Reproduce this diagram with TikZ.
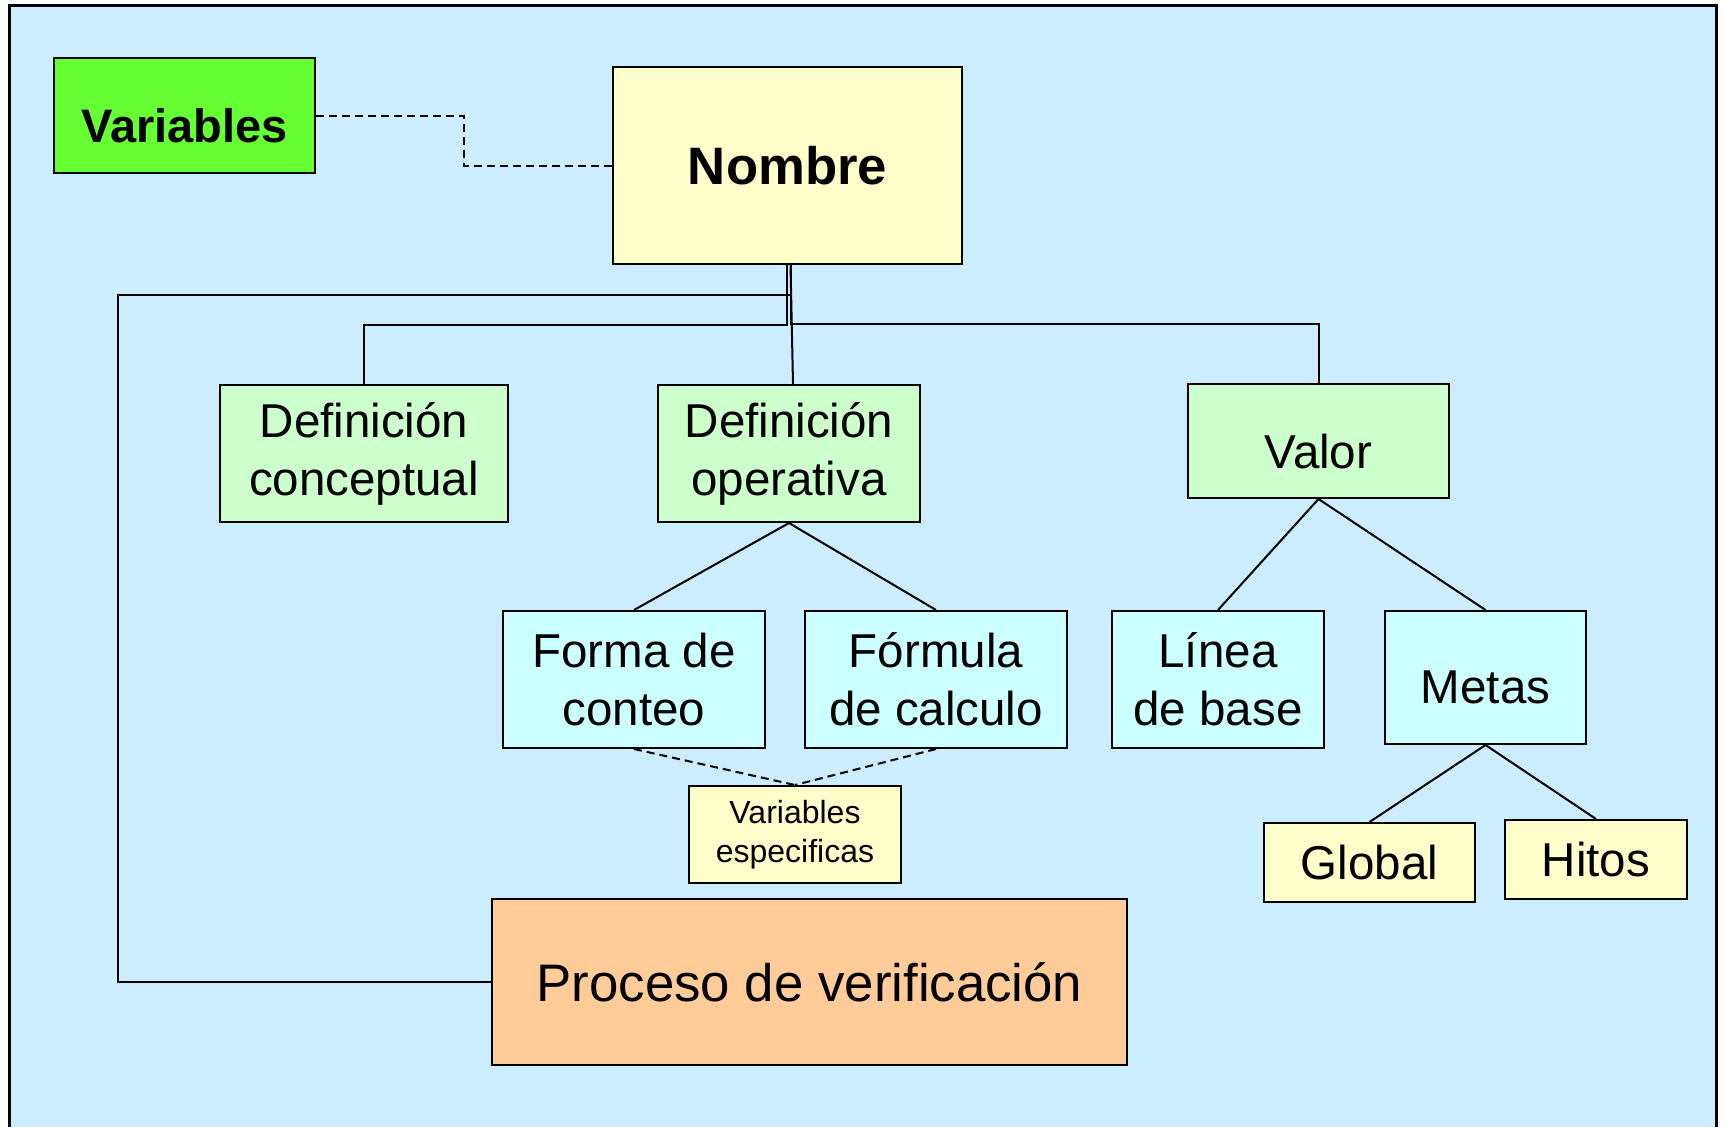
\documentclass[tikz,border=0pt]{standalone}
\usepackage{fontspec}
\setmainfont{Liberation Sans}
\usetikzlibrary{calc}

\definecolor{colFondo}{HTML}{CCECFF}
\definecolor{colVariables}{HTML}{66FF33}
\definecolor{colNombre}{HTML}{FFFFCC}
\definecolor{colVerde}{HTML}{CCFFCC}
\definecolor{colCeleste}{HTML}{CCFFFF}
\definecolor{colProceso}{HTML}{FFCC99}

\tikzset{
	caja/.style={draw=black, line width=2pt, inner sep=0pt, align=center, text=black},
	texto/.style={font=\fontsize{47.5}{58}\selectfont},
	cajaverde/.style={caja, texto, fill=colVerde},
	cajaceleste/.style={caja, texto, fill=colCeleste},
	cajaamarilla/.style={caja, texto, fill=colNombre},
	linea/.style={line width=2pt},
	punteada/.style={line width=2pt, dash pattern=on 8pt off 5pt}
}

\begin{document}
\begin{tikzpicture}[x=1pt, y=-1pt]
				\useasboundingbox (0,0) rectangle (1723,1127);
				% Frame
				\fill[colFondo] (9,5) rectangle (1716,1127);
				\draw[line width=3pt] (9,1127) -- (9,5) -- (1716,5) -- (1716,1127);

				% Nodes
				\node[caja, fill=colVariables, font=\fontsize{47}{56}\selectfont\bfseries, text height=54pt, text depth=0pt, minimum width=261pt, minimum height=115pt] (variables) at (184.5, 115.5) {Variables};
				\node[caja, fill=colNombre, font=\fontsize{52.7}{62}\selectfont\bfseries, minimum width=349pt, minimum height=197pt] (nombre) at (787.5, 165.5) {Nombre};
				\node[cajaverde, minimum width=288pt, minimum height=137pt] (defcon) at (364, 453.5) {Definición\\conceptual};
				\node[cajaverde, minimum width=262pt, minimum height=137pt] (defope) at (789, 453.5) {Definición\\operativa};
				\node[cajaverde, text height=54pt, text depth=0pt, minimum width=261pt, minimum height=114pt] (valor) at (1318.5, 441) {Valor};
				\node[cajaceleste, minimum width=262pt, minimum height=137pt] (forma) at (634, 679.5) {Forma de\\conteo};
				\node[cajaceleste, minimum width=262pt, minimum height=137pt] (formula) at (936, 679.5) {Fórmula\\de calculo};
				\node[cajaceleste, minimum width=212pt, minimum height=137pt] (lineabase) at (1218, 679.5) {Línea\\de base};
				\node[cajaceleste, text height=52pt, text depth=0pt, minimum width=201pt, minimum height=133pt] (metas) at (1485.5, 677.5) {Metas};
				\node[caja, fill=colNombre, font=\fontsize{32}{38.5}\selectfont, minimum width=212pt, minimum height=97pt] (varesp) at (795, 834.5) {Variables\\especificas};
				\node[cajaamarilla, minimum width=211pt, minimum height=79pt] (global) at (1369.5, 862.5) {Global};
				\node[cajaamarilla, minimum width=182pt, minimum height=79pt] (hitos) at (1596, 859.5) {Hitos};
				\node[caja, fill=colProceso, font=\fontsize{52.8}{62}\selectfont, minimum width=635pt, minimum height=166pt] (proceso) at (809.5, 982) {Proceso de verificación};

				% Lines
				\coordinate (vuelta) at (118, 294.5);
				\draw[punteada] (variables.east) -| ($(variables.east)!0.5!(nombre.west)$) |- (nombre.west);
				\draw[linea] ([xshift=-1pt]nombre.south) -- ++(0,60) -| (defcon.north);
				\draw[linea] ([xshift=3pt]nombre.south) -- ([xshift=4pt]defope.north);
				\draw[linea] ([xshift=3pt]nombre.south) -- ++(0,59) -| (valor.north);
				\draw[linea] ([xshift=3pt]nombre.south) |- (vuelta) |- (proceso.west);
				\draw[linea] (defope.south) -- (forma.north);
				\draw[linea] (defope.south) -- (formula.north);
				\draw[linea] (valor.south) -- (lineabase.north);
				\draw[linea] (valor.south) -- (metas.north);
				\draw[linea] (metas.south) -- (global.north);
				\draw[linea] (metas.south) -- (hitos.north);
				\draw[punteada] (forma.south) -- (varesp.north);
				\draw[punteada] (formula.south) -- (varesp.north);
			\end{tikzpicture}
\end{document}
